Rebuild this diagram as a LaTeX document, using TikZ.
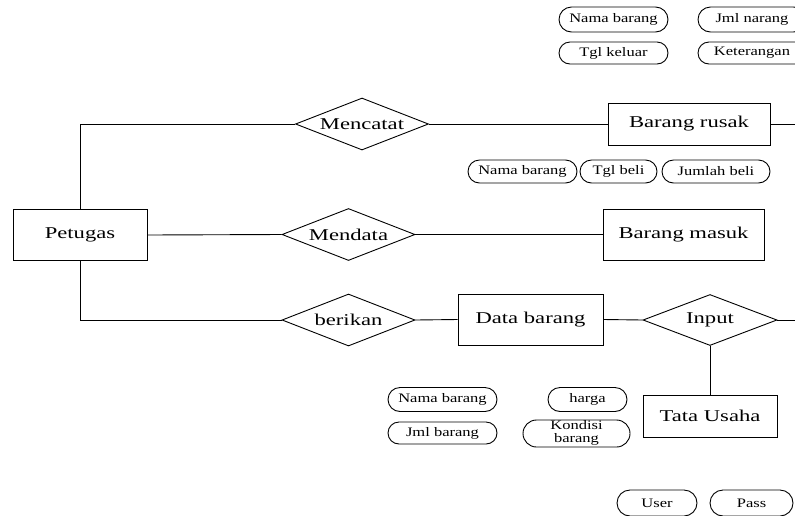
\documentclass[tikz,border=0pt]{standalone}
\usepackage{fontspec}
\usepackage{graphicx}
\setmainfont{Liberation Serif}
\usetikzlibrary{shapes.geometric,shapes.misc}
\newcommand{\BigLab}[1]{\scalebox{1.37}[1]{\fontsize{16.5}{18}\selectfont #1}}
\newcommand{\SmLab}[1]{\scalebox{1.27}[1]{\fontsize{13}{14}\selectfont #1}}
\begin{document}
\begin{tikzpicture}[x=1pt,y=-1pt,
  ent/.style={draw,line width=0.9pt,rectangle,inner sep=0pt,fill=white},
  rel/.style={draw,line width=0.9pt,diamond,shape aspect=2.56,inner sep=0pt,minimum width=133pt,minimum height=52pt},
  attr/.style={draw,line width=0.9pt,rounded rectangle,inner sep=0pt,minimum height=24pt},
  conn/.style={line width=0.9pt}]
\useasboundingbox (0,0) rectangle (795,515);
\clip (0,0) rectangle (795,515);
% entities
\node[ent,minimum width=134pt,minimum height=51pt] (pet) at (80,235) {\BigLab{Petugas}};
\node[ent,minimum width=162pt,minimum height=42pt] (rusak) at (689,124) {\BigLab{Barang rusak}};
\node[ent,minimum width=161pt,minimum height=51pt] (masuk) at (683.5,234.5) {\BigLab{Barang masuk}};
\node[ent,minimum width=145pt,minimum height=51pt] (data) at (530.5,319.5) {\BigLab{Data barang}};
\node[ent,minimum width=134pt,minimum height=42pt] (tu) at (710,416) {\BigLab{Tata Usaha}};
% relations
\node[rel] (catat) at (362,124) {\BigLab{Mencatat}};
\node[rel] (mendata) at (348.5,234.5) {\BigLab{Mendata}};
\node[rel] (berikan) at (348.5,320) {\BigLab{berikan}};
\node[rel,minimum width=134pt,minimum height=51pt] (input) at (710,320) {\BigLab{Input}};
% attributes
\node[attr,minimum width=109pt,minimum height=25pt] (a1) at (613.5,19.5) {\SmLab{Nama barang}};
\node[attr,minimum width=109pt,minimum height=22pt] (a2) at (613.5,53) {\SmLab{Tgl keluar}};
\node[attr,minimum width=108pt,minimum height=25pt] (a3) at (752,19.5) {\SmLab{Jml narang}};
\node[attr,minimum width=108pt,minimum height=22pt] (a4) at (752,53) {\SmLab{Keterangan}};
\node[attr,minimum width=109pt,minimum height=23pt] (b1) at (522.5,171.5) {\SmLab{Nama barang}};
\node[attr,minimum width=77pt,minimum height=23pt] (b2) at (618.5,171.5) {\SmLab{Tgl beli}};
\node[attr,minimum width=108pt,minimum height=23pt] (b3) at (716,171.5) {\SmLab{Jumlah beli}};
\node[attr,minimum width=109pt,minimum height=24pt] (c1) at (442.5,399.5) {\SmLab{Nama barang}};
\node[attr,minimum width=79pt,minimum height=24pt] (c2) at (587.5,399.5) {\SmLab{harga}};
\node[attr,minimum width=109pt,minimum height=22pt] (c3) at (442.5,433) {\SmLab{Jml barang}};
\node[attr,minimum width=107pt,minimum height=24pt,align=center] (c4) at (576.5,433.5) {\scalebox{1.27}[1]{\fontsize{13}{14}\selectfont\begin{tabular}{@{}c@{}}Kondisi\\[-1pt]barang\end{tabular}}};
\node[attr,minimum width=80pt,minimum height=26pt] (u1) at (657,503) {\SmLab{User}};
\node[attr,minimum width=83pt,minimum height=26pt] (u2) at (751.5,503) {\SmLab{Pass}};
% free ends
\coordinate (rusakR) at (800,124);
\coordinate (inputR) at (800,320);
\coordinate (k1) at (80,124);
\coordinate (k2) at (80,320);
% connectors
\draw[conn] (pet.north) -- (k1) -- (catat.west);
\draw[conn] (pet.east) -- (mendata.west);
\draw[conn] (pet.south) -- (k2) -- (berikan.west);
\draw[conn] (catat.east) -- (rusak.west);
\draw[conn] (mendata.east) -- (masuk.west);
\draw[conn] (berikan.east) -- (data.west);
\draw[conn] (data.east) -- (input.west);
\draw[conn] (input.south) -- (tu.north);
\draw[conn] (rusak.east) -- (rusakR);
\draw[conn] (input.east) -- (inputR);
\end{tikzpicture}
\end{document}
